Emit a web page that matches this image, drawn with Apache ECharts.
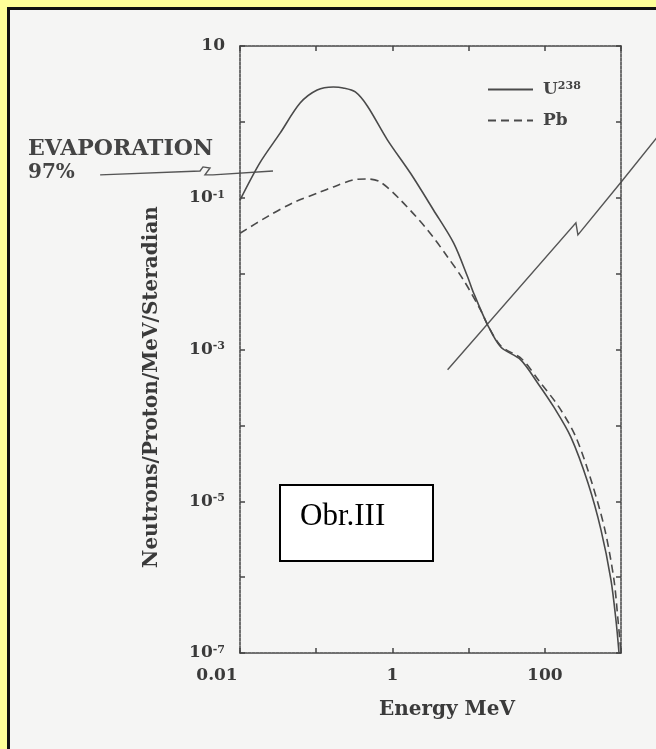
<!DOCTYPE html>
<html>
<head>
<meta charset="utf-8">
<title>Neutrons/Proton/MeV/Steradian</title>
<script src="https://cdn.jsdelivr.net/npm/echarts@6/dist/echarts.min.js"></script>
<style>
  html, body { margin: 0; padding: 0; background: #ffff99; }
  #paper {
    position: absolute; left: 7px; top: 7px; right: 0; bottom: 0;
    background: #f5f5f4;
    border-left: 3px solid #111; border-top: 3px solid #111;
  }
  #chart { position: absolute; left: 0; top: 0; width: 656px; height: 749px; }
</style>
</head>
<body>
<div id="paper"></div>
<div id="chart"></div>
<script>
// energies in MeV, values in neutrons/proton/MeV/sr
const energyU = [0.01, 0.0183, 0.0336, 0.0615, 0.103, 0.168, 0.226, 0.326, 0.469, 0.859, 1.73, 3.46,
  6.35, 9.7, 11.6, 17.8, 26.4, 48.3, 80.9, 131, 220, 368, 546, 738, 859, 942]
const fluxU = [0.093, 0.29, 0.71, 1.77, 2.63, 2.88, 2.8, 2.48, 1.62, 0.58, 0.21, 0.069,
  0.0254, 0.0091, 0.0056, 0.0021, 0.00108, 0.00073, 0.00036, 0.000175, 7.0e-5, 1.75e-5, 4.2e-6, 9.2e-7, 2.7e-7, 1e-7]

const energyPb = [0.01, 0.0226, 0.0498, 0.113, 0.168, 0.307, 0.469, 0.695, 1.27, 2.89, 5.3, 8.6,
  14.4, 17.8, 26.4, 50, 85, 153, 256, 415, 615, 809, 914, 1000]
const fluxPb = [0.034, 0.056, 0.086, 0.119, 0.139, 0.172, 0.177, 0.161, 0.094, 0.0377, 0.0166, 0.0082,
  0.0033, 0.0021, 0.00112, 0.00075, 0.00038, 1.75e-4, 7e-5, 1.75e-5, 4.2e-6, 9.2e-7, 2.7e-7, 1e-7]

// hand drawn marks on the scan (straight cut line and the evaporation pointer)
const cutEnergy = [5.3, 256, 272, 1030, 2980]
const cutValue = [5.4e-4, 0.0466, 0.0324, 0.166, 0.63]
const evapEnergy = [1.46e-4, 0.00299, 0.00327, 0.00404, 0.00347, 0.00442, 0.0271]
const evapValue = [0.2, 0.225, 0.255, 0.247, 0.2, 0.2, 0.225]

const xTickValues = [0.01, 1, 100]
const xTickLabels = ['0.01', '1', '100']
const yTickExponents = [1, -1, -3, -5, -7]

const FONT = 'DejaVu Serif'
const INK = '#3a3a3a'

const chart = echarts.init(document.getElementById('chart'))

const pairs = (xs, ys) => xs.map((x, i) => [x, ys[i]])
const expOf = v => Math.round(Math.log10(v))

const axisLine = { lineStyle: { color: '#444', width: 1.5, type: [3, 1] } }
const axisTick = { inside: true, length: 5, lineStyle: { color: '#444', width: 1.5 } }
const labelText = { fontFamily: FONT, fontWeight: 'bold', fontSize: 17, color: INK }

const xLabel = {
  margin: 14,
  formatter: v => {
    const i = xTickValues.findIndex(t => expOf(t) === expOf(v))
    if (i < 0) return ''
    // first label sits a little left of its tick on the scan
    return (i === 0 ? '{l|' : '{b|') + xTickLabels[i] + '}'
  },
  rich: {
    b: labelText,
    l: { ...labelText, padding: [0, 46, 0, 0] }
  }
}

const yLabel = {
  margin: 15,
  formatter: v => {
    const e = expOf(v)
    if (!yTickExponents.includes(e)) return ''
    return e === 1 ? '{b|10}' : '{b|10}{s|' + e + '}'
  },
  rich: {
    b: labelText,
    s: { ...labelText, fontSize: 11, verticalAlign: 'top' }
  }
}

const option = {
  animation: false,
  grid: { left: 240, top: 46, right: 35, bottom: 96 },
  legend: {
    data: ['U238', 'Pb'],
    orient: 'vertical',
    left: 487,
    top: 81,
    padding: 0,
    itemWidth: 45,
    itemHeight: 14,
    itemGap: 14,
    itemStyle: { opacity: 0 },
    formatter: n => (n === 'U238' ? 'U{s|238}' : n),
    textStyle: {
      ...labelText, color: '#444', padding: [0, 0, 0, 5],
      rich: { s: { ...labelText, color: '#444', fontSize: 11, verticalAlign: 'top' } }
    }
  },
  xAxis: [
    { type: 'log', logBase: 10, min: 0.01, max: 1000, splitNumber: 5, position: 'bottom',
      axisLine, axisTick, splitLine: { show: false }, axisLabel: xLabel },
    { type: 'log', logBase: 10, min: 0.01, max: 1000, splitNumber: 5, position: 'top',
      axisLine, axisTick, splitLine: { show: false }, axisLabel: { show: false } }
  ],
  yAxis: [
    { type: 'log', logBase: 10, min: 1e-7, max: 10, splitNumber: 8, position: 'left',
      axisLine: { show: true, ...axisLine }, axisTick: { show: true, ...axisTick },
      splitLine: { show: false }, axisLabel: yLabel },
    { type: 'log', logBase: 10, min: 1e-7, max: 10, splitNumber: 8, position: 'right',
      axisLine: { show: true, ...axisLine }, axisTick: { show: true, ...axisTick },
      splitLine: { show: false }, axisLabel: { show: false } }
  ],
  series: [
    {
      name: 'U238', type: 'line', symbol: 'none', smooth: 0.3,
      lineStyle: { color: '#4a4a4a', width: 1.6 },
      itemStyle: { color: '#4a4a4a' },
      data: pairs(energyU, fluxU)
    },
    {
      name: 'Pb', type: 'line', symbol: 'none', smooth: 0.3,
      lineStyle: { color: '#4a4a4a', width: 1.6, type: [8, 5] },
      itemStyle: { color: '#4a4a4a' },
      data: pairs(energyPb, fluxPb)
    }
  ]
}

chart.setOption(option)

// the hand drawn marks run past the plot frame, so they are placed through the
// chart's own scales and drawn as free polylines
const toPx = (xs, ys) => xs.map((x, i) => chart.convertToPixel({ gridIndex: 0 }, [x, ys[i]]))
const markStyle = { stroke: '#555', lineWidth: 1.4, fill: null }

chart.setOption({
  graphic: [
    { type: 'polyline', shape: { points: toPx(cutEnergy, cutValue) }, style: markStyle, silent: true },
    { type: 'polyline', shape: { points: toPx(evapEnergy, evapValue) }, style: markStyle, silent: true },
    { type: 'text', left: 28, top: 138,
      style: { text: 'EVAPORATION', font: 'bold 22px "DejaVu Serif"', fill: '#444' } },
    { type: 'text', left: 28, top: 163,
      style: { text: '97%', font: 'bold 20px "DejaVu Serif"', fill: '#444' } },
    { type: 'text', x: 152, y: 387, rotation: Math.PI / 2,
      style: { text: 'Neutrons/Proton/MeV/Steradian', font: 'bold 20px "DejaVu Serif"', fill: INK,
        align: 'center', verticalAlign: 'middle' } },
    { type: 'text', x: 447, y: 710,
      style: { text: 'Energy MeV', font: 'bold 20px "DejaVu Serif"', fill: INK,
        align: 'center', verticalAlign: 'middle' } },
    { type: 'rect', shape: { x: 280, y: 485, width: 153, height: 76 },
      style: { fill: '#fff', stroke: '#000', lineWidth: 2 } },
    { type: 'text', x: 300, y: 517,
      style: { text: 'Obr.III', font: '31px "Liberation Serif"', fill: '#000', verticalAlign: 'middle' } }
  ]
})
</script>
</body>
</html>
